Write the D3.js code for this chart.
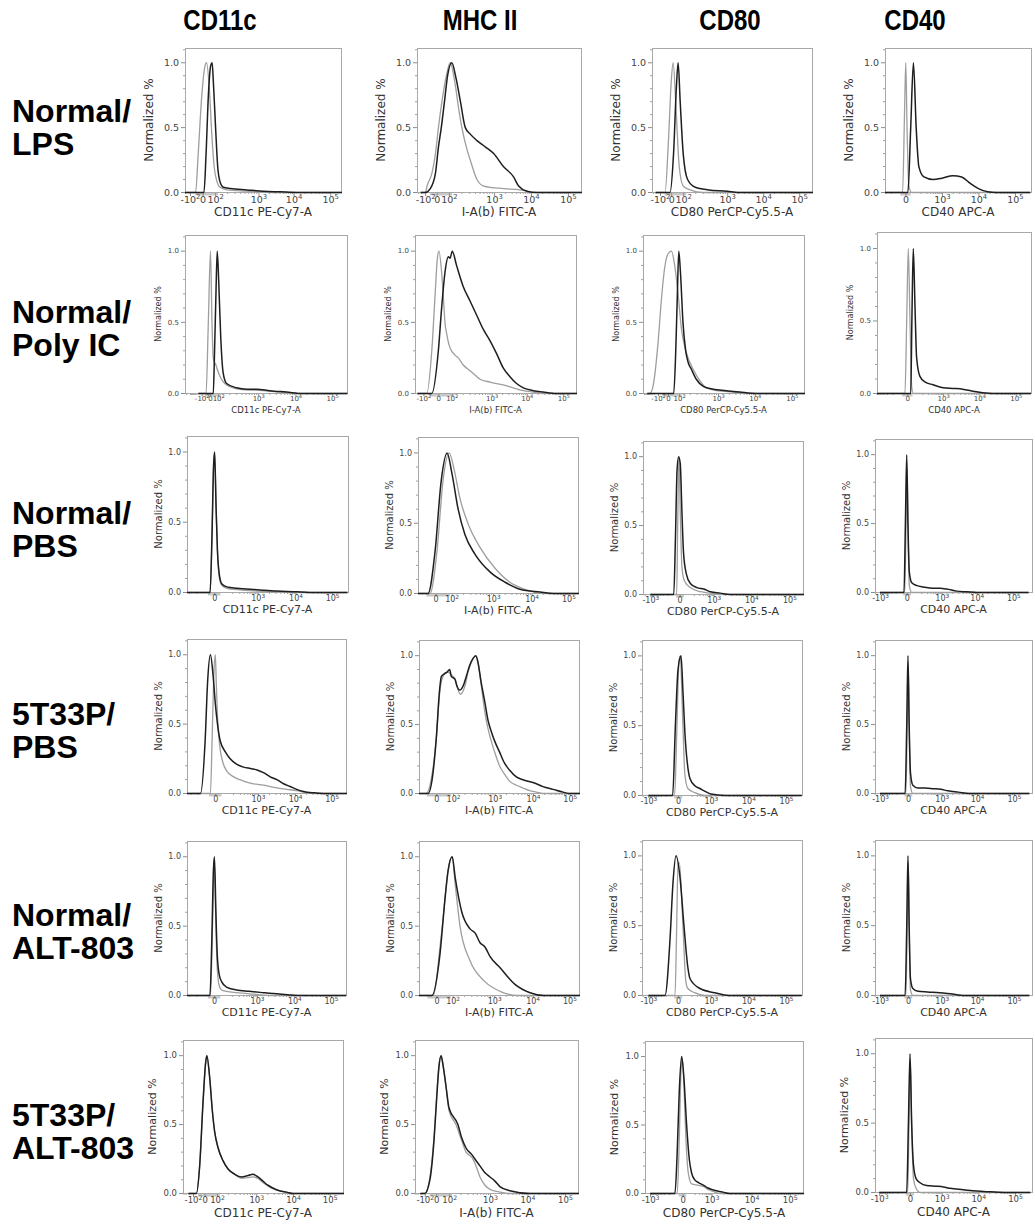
<!DOCTYPE html>
<html><head><meta charset="utf-8">
<script src="https://cdn.jsdelivr.net/npm/d3@7"></script>
<style>body{margin:0;background:#fff}svg{display:block}</style>
</head><body>
<svg id="chart" width="1035" height="1229"></svg>
<script>
// ================= DATA =================
const columnHeaders = ["CD11c", "MHC II", "CD80", "CD40"];
const rowHeaders = [["Normal/", "LPS"], ["Normal/", "Poly IC"], ["Normal/", "PBS"], ["5T33P/", "PBS"], ["Normal/", "ALT-803"], ["5T33P/", "ALT-803"]];
const axisTitles = ["CD11c PE-Cy7-A", "I-A(b) FITC-A", "CD80 PerCP-Cy5.5-A", "CD40 APC-A"];
const yTickValues = [0, 0.5, 1.0];
const yMinorTicks = [0.1, 0.2, 0.3, 0.4, 0.6, 0.7, 0.8, 0.9, 1.1];
const ticksLow = [-100, 0, 100, 1000, 10000, 100000];
const ticksHigh = [-1000, 0, 1000, 10000, 100000];
const labelsLow = [-100, 0, 100, 1000, 10000, 100000];
const labelsHigh = [-1000, 0, 1000, 10000, 100000];
const labelsPos = [0, 1000, 10000, 100000];
const labelsMhc = [0, 100, 1000, 10000, 100000];

// [fluorescence, normalized count]; gray = control, black = stained
const lps_cd11c_gray = [[-200,0],[-38,0],[-20,0.3],[-3,0.75],[9,0.97],[18,1.0],[36,0.8],[58,0.45],[86,0.2],[113,0.08],[135,0.04],[198,0.02],[560,0.01],[2150,0],[262000,0]];
const lps_cd11c_black = [[-200,0],[5,0],[15,0.3],[29,0.75],[48,0.98],[62,1.0],[76,0.85],[103,0.5],[117,0.2],[135,0.08],[162,0.04],[240,0.03],[560,0.02],[1380,0.01],[4170,0.005],[12300,0],[262000,0]];
const lps_mhc_gray = [[-200,0],[-98,0],[-73,0.05],[-25,0.15],[-5,0.3],[7,0.5],[26,0.7],[65,0.9],[108,1.0],[140,0.85],[172,0.65],[205,0.5],[268,0.33],[315,0.25],[440,0.1],[610,0.05],[1800,0.03],[5100,0.02],[7800,0.01],[9600,0],[262000,0]];
const lps_mhc_black = [[-200,0],[-98,0],[-38,0.03],[-5,0.15],[7,0.35],[22,0.5],[46,0.7],[80,0.9],[118,1.0],[150,0.88],[190,0.7],[245,0.5],[315,0.45],[440,0.4],[665,0.35],[980,0.3],[1800,0.2],[3400,0.12],[4650,0.05],[7800,0.01],[14500,0],[262000,0]];
const lps_cd80_gray = [[-200,0],[-37,0],[-13,0.4],[0,0.85],[8,1.0],[26,0.6],[50,0.2],[100,0.05],[150,0.02],[300,0],[262000,0]];
const lps_cd80_black = [[-200,0],[-5,0],[10,0.3],[26,0.8],[40,1.0],[60,0.7],[100,0.3],[130,0.1],[200,0.04],[400,0.02],[1000,0.01],[2000,0],[262000,0]];
const lps_cd40_gray = [[-1000,0],[-10,0],[-3,0.6],[1,1.0],[5,0.5],[12,0.05],[25,0],[262000,0]];
const lps_cd40_black = [[-1000,0],[8,0],[20,0.5],[35,1.0],[55,0.5],[80,0.2],[150,0.12],[400,0.1],[1000,0.11],[2000,0.13],[3500,0.12],[6000,0.07],[10000,0.03],[18000,0.005],[30000,0],[262000,0]];

const polyic_cd11c_gray = [[-200,0],[-30,0],[-10,0.5],[3,1.0],[13,0.5],[24,0.25],[38,0.22],[57,0.2],[79,0.17],[113,0.12],[170,0.06],[365,0.03],[1360,0.02],[3800,0.01],[8700,0],[262000,0]];
const polyic_cd11c_black = [[-200,0],[24,0],[38,0.3],[57,0.7],[79,1.0],[103,0.8],[118,0.4],[137,0.15],[170,0.07],[306,0.04],[535,0.03],[920,0.03],[2050,0.02],[5750,0.01],[16000,0],[262000,0]];
const polyic_mhc_gray = [[-200,0],[-64,0],[-27,0.3],[-11,0.7],[-3,0.95],[2,1.0],[13,0.85],[26,0.6],[32,0.5],[45,0.42],[60,0.36],[79,0.32],[124,0.27],[153,0.25],[207,0.2],[306,0.16],[445,0.12],[535,0.1],[920,0.08],[2150,0.06],[4150,0.04],[8000,0.02],[15000,0.01],[28000,0],[262000,0]];
const polyic_mhc_black = [[-200,0],[-27,0],[0,0.3],[13,0.6],[32,0.85],[60,0.96],[79,0.95],[104,1.0],[137,0.9],[207,0.75],[306,0.65],[445,0.55],[640,0.45],[920,0.37],[1390,0.28],[2150,0.18],[3300,0.12],[5150,0.07],[8000,0.04],[15000,0.02],[28000,0.01],[66000,0],[262000,0]];
const polyic_cd80_gray = [[-600,0],[-400,0],[-240,0.05],[-100,0.35],[-50,0.65],[-19,0.88],[0,0.98],[17,1.0],[43,0.9],[84,0.7],[118,0.45],[145,0.33],[180,0.25],[245,0.17],[360,0.09],[524,0.04],[920,0.02],[2570,0.01],[7300,0],[262000,0]];
const polyic_cd80_black = [[-600,0],[34,0],[54,0.3],[74,0.7],[95,1.0],[110,0.85],[130,0.5],[155,0.3],[180,0.22],[220,0.17],[295,0.1],[440,0.05],[760,0.03],[1700,0.02],[3900,0.01],[11000,0],[262000,0]];
const polyic_cd40_gray = [[-1000,0],[-8,0],[-2,0.5],[3,1.0],[9,0.5],[16,0.05],[24,0],[262000,0]];
const polyic_cd40_black = [[-1000,0],[12,0],[17,0.5],[24,1.0],[34,0.6],[45,0.25],[73,0.12],[140,0.08],[350,0.06],[1000,0.04],[1880,0.035],[3500,0.03],[6600,0.015],[12300,0.005],[23000,0],[262000,0]];

const pbs_cd11c_gray = [[-1000,0],[-12,0],[-6,0.4],[-1.6,0.9],[1,1.0],[5,0.6],[9,0.3],[16,0.1],[26,0.05],[54,0.03],[160,0.02],[940,0.01],[3200,0.005],[10700,0],[262000,0]];
const pbs_cd11c_black = [[-1000,0],[-12,0],[-6,0.4],[-1.6,0.9],[1,1.0],[5,0.6],[9,0.3],[16,0.12],[26,0.06],[54,0.04],[160,0.03],[940,0.02],[3200,0.01],[10700,0.005],[24000,0],[262000,0]];
const pbs_mhc_gray = [[-300,0],[-20,0],[4,0.3],[29,0.8],[74,1.0],[118,0.88],[166,0.68],[262,0.5],[500,0.33],[1120,0.18],[2750,0.08],[6700,0.03],[23000,0],[262000,0]];
const pbs_mhc_black = [[-300,0],[-30,0],[-1.5,0.3],[20,0.8],[56,1.0],[103,0.85],[150,0.6],[222,0.42],[385,0.28],[870,0.15],[2050,0.08],[5000,0.03],[17000,0.01],[40000,0],[262000,0]];
const pbs_cd80_gray = [[-1000,0],[-13,0],[-8,0.5],[-2.5,1.0],[2,0.6],[8,0.2],[19,0.1],[61,0.05],[230,0.02],[700,0.01],[1840,0],[262000,0]];
const pbs_cd80_black = [[-1000,0],[-31,0],[-20,0.4],[-11,0.9],[-4,1.0],[2,0.95],[8,0.6],[15,0.3],[30,0.15],[61,0.08],[150,0.05],[340,0.04],[700,0.02],[1500,0.01],[2750,0],[262000,0]];
const pbs_cd40_gray = [[-1000,0],[-9,0],[-2.8,0.5],[1,0.9],[4,0.5],[9,0.05],[20,0],[262000,0]];
const pbs_cd40_black = [[-1000,0],[-13,0],[-5.7,0.5],[0,1.0],[4,0.5],[9,0.15],[20,0.07],[55,0.05],[130,0.04],[410,0.03],[850,0.03],[1390,0.025],[2700,0.01],[5200,0.005],[10000,0],[262000,0]];

const tpbs_cd11c_gray = [[-1000,0],[-15,0],[-9,0.4],[-4,0.85],[0,1.0],[2.5,0.8],[6,0.55],[13,0.35],[27,0.22],[49,0.16],[108,0.12],[280,0.09],[690,0.07],[1420,0.06],[3250,0.04],[6000,0.03],[11000,0.02],[21000,0.005],[39000,0],[262000,0]];
const tpbs_cd11c_black = [[-1000,0],[-73,0],[-39,0.4],[-27,0.8],[-15,1.0],[-6,0.85],[0,0.65],[6,0.5],[15,0.38],[39,0.3],[73,0.25],[150,0.21],[280,0.19],[530,0.18],[940,0.17],[1420,0.15],[2150,0.12],[3250,0.1],[4900,0.07],[7400,0.05],[11000,0.03],[17000,0.015],[32000,0.005],[59000,0],[262000,0]];
const tpbs_mhc_gray = [[-300,0],[-43,0],[-17,0.1],[0,0.4],[10,0.72],[24,0.85],[54,0.88],[82,0.86],[113,0.83],[135,0.76],[157,0.72],[205,0.78],[245,0.88],[293,0.95],[375,1.0],[420,0.95],[500,0.78],[596,0.6],[710,0.47],[840,0.38],[1000,0.3],[1350,0.2],[1820,0.14],[2450,0.09],[3700,0.06],[5500,0.04],[8200,0.02],[12300,0.01],[18700,0],[262000,0]];
const tpbs_mhc_black = [[-300,0],[-32,0],[-10,0.15],[0,0.4],[10,0.75],[17,0.85],[32,0.87],[47,0.88],[67,0.9],[82,0.85],[113,0.83],[128,0.78],[150,0.75],[185,0.78],[222,0.85],[268,0.93],[322,0.98],[375,1.0],[420,0.95],[500,0.8],[596,0.67],[710,0.53],[840,0.45],[1000,0.38],[1350,0.3],[1820,0.22],[2450,0.17],[3700,0.12],[5500,0.1],[10000,0.08],[18700,0.05],[35000,0.03],[66000,0.01],[100000,0],[262000,0]];
const tpbs_cd80_gray = [[-1000,0],[-15,0],[-4,0.5],[3,0.95],[8,1.0],[21,0.5],[33,0.15],[57,0.05],[155,0.02],[520,0],[262000,0]];
const tpbs_cd80_black = [[-1000,0],[-27,0],[-11,0.5],[0,0.9],[11.5,1.0],[21,0.75],[33,0.45],[57,0.2],[80,0.12],[155,0.07],[290,0.05],[520,0.03],[1000,0.01],[2400,0],[262000,0]];
const tpbs_cd40_gray = [[-1000,0],[-9,0],[-3,0.5],[1,0.92],[4,0.5],[9,0.05],[20,0],[262000,0]];
const tpbs_cd40_black = [[-1000,0],[-13,0],[-5,0.5],[0,1.0],[4,0.5],[9,0.15],[20,0.06],[55,0.04],[150,0.04],[400,0.035],[900,0.03],[1500,0.02],[3000,0.01],[6000,0],[262000,0]];

const alt_cd11c_gray = [[-1000,0],[-10,0],[-4,0.5],[1,0.95],[5,0.5],[9,0.2],[16,0.07],[26,0.04],[54,0.03],[160,0.02],[700,0.01],[3000,0],[262000,0]];
const alt_cd11c_black = [[-1000,0],[-12,0],[-6,0.4],[-1.6,0.9],[1,1.0],[5,0.6],[9,0.3],[16,0.15],[26,0.1],[54,0.06],[160,0.04],[500,0.03],[1500,0.02],[4000,0.01],[15000,0],[262000,0]];
const alt_mhc_gray = [[-300,0],[-10,0],[11,0.35],[24,0.55],[56,0.9],[95,1.0],[118,0.8],[158,0.5],[280,0.25],[620,0.1],[1430,0.03],[4000,0],[262000,0]];
const alt_mhc_black = [[-300,0],[-16,0],[11,0.3],[35,0.7],[56,0.9],[95,1.0],[118,0.85],[176,0.6],[280,0.48],[370,0.45],[480,0.38],[620,0.35],[810,0.28],[1430,0.2],[3500,0.08],[8600,0.02],[20000,0],[262000,0]];
const alt_cd80_gray = [[-1000,0],[-13,0],[-5,0.5],[0,0.95],[5,0.95],[21,0.5],[40,0.1],[57,0.05],[150,0.02],[500,0],[262000,0]];
const alt_cd80_black = [[-1000,0],[-112,0],[-48,0.4],[-25,0.8],[-8,1.0],[7,0.85],[27,0.5],[57,0.2],[80,0.12],[290,0.05],[1260,0.02],[3000,0],[262000,0]];
const alt_cd40_gray = [[-1000,0],[-9,0],[-3,0.5],[1,0.95],[4,0.5],[9,0.04],[20,0],[262000,0]];
const alt_cd40_black = [[-1000,0],[-13,0],[-5,0.5],[0,1.0],[4,0.5],[9,0.12],[20,0.05],[55,0.03],[200,0.025],[800,0.02],[2000,0.01],[5000,0],[262000,0]];

const talt_cd11c_gray = [[-200,0],[-55,0],[-26,0.2],[-7,0.65],[4,0.95],[9,1.0],[24,0.85],[45,0.6],[68,0.45],[108,0.33],[147,0.24],[200,0.18],[300,0.14],[440,0.11],[635,0.115],[836,0.12],[1110,0.11],[1520,0.08],[2080,0.055],[2850,0.035],[4300,0.02],[6600,0.01],[10000,0],[262000,0]];
const talt_cd11c_black = [[-200,0],[-55,0],[-26,0.2],[-7,0.65],[4,0.95],[9,1.0],[24,0.85],[45,0.6],[68,0.45],[108,0.33],[147,0.24],[200,0.18],[300,0.14],[440,0.12],[635,0.13],[836,0.14],[1110,0.12],[1520,0.09],[2080,0.06],[2850,0.04],[4300,0.02],[6600,0.01],[10000,0],[262000,0]];
const talt_mhc_gray = [[-200,0],[-100,0],[-37,0.12],[-9,0.42],[2,0.72],[11,0.93],[22,1.0],[35,0.93],[60,0.78],[97,0.6],[153,0.5],[217,0.38],[275,0.3],[385,0.26],[450,0.22],[590,0.12],[770,0.06],[1000,0.03],[1850,0.01],[3400,0],[262000,0]];
const talt_mhc_black = [[-200,0],[-100,0],[-37,0.1],[-9,0.4],[2,0.7],[11,0.92],[22,1.0],[35,0.93],[60,0.78],[97,0.62],[172,0.5],[217,0.4],[275,0.33],[385,0.28],[450,0.25],[590,0.2],[770,0.15],[1000,0.12],[1360,0.09],[1850,0.05],[3400,0.02],[11700,0],[262000,0]];
const talt_cd80_gray = [[-1000,0],[-24,0],[-13,0.4],[-5.6,0.9],[-1,0.98],[5,0.8],[15,0.4],[30,0.15],[60,0.07],[180,0.06],[370,0.05],[640,0.03],[1100,0.015],[1620,0],[262000,0]];
const talt_cd80_black = [[-1000,0],[-39,0],[-24,0.3],[-13,0.75],[-3.3,1.0],[5,0.85],[19,0.5],[38,0.25],[60,0.15],[103,0.1],[180,0.08],[370,0.06],[640,0.04],[1000,0.03],[1330,0.02],[1950,0.01],[2880,0],[262000,0]];
const talt_cd40_gray = [[-1000,0],[-9,0],[-3.7,0.5],[1,0.95],[6,0.5],[14,0.1],[29,0.03],[62,0],[262000,0]];
const talt_cd40_black = [[-1000,0],[-14,0],[-6,0.5],[0,1.0],[6,0.5],[14,0.2],[29,0.1],[62,0.07],[160,0.05],[570,0.045],[1110,0.04],[1700,0.03],[3900,0.02],[9000,0.01],[21000,0.005],[59000,0],[262000,0]];

const histograms = [
  [[lps_cd11c_gray, lps_cd11c_black], [lps_mhc_gray, lps_mhc_black], [lps_cd80_gray, lps_cd80_black], [lps_cd40_gray, lps_cd40_black]],
  [[polyic_cd11c_gray, polyic_cd11c_black], [polyic_mhc_gray, polyic_mhc_black], [polyic_cd80_gray, polyic_cd80_black], [polyic_cd40_gray, polyic_cd40_black]],
  [[pbs_cd11c_gray, pbs_cd11c_black], [pbs_mhc_gray, pbs_mhc_black], [pbs_cd80_gray, pbs_cd80_black], [pbs_cd40_gray, pbs_cd40_black]],
  [[tpbs_cd11c_gray, tpbs_cd11c_black], [tpbs_mhc_gray, tpbs_mhc_black], [tpbs_cd80_gray, tpbs_cd80_black], [tpbs_cd40_gray, tpbs_cd40_black]],
  [[alt_cd11c_gray, alt_cd11c_black], [alt_mhc_gray, alt_mhc_black], [alt_cd80_gray, alt_cd80_black], [alt_cd40_gray, alt_cd40_black]],
  [[talt_cd11c_gray, talt_cd11c_black], [talt_mhc_gray, talt_mhc_black], [talt_cd80_gray, talt_cd80_black], [talt_cd40_gray, talt_cd40_black]]
];

// ================= LAYOUT (positions / styles) =================
const rowLayout = [
  {frames: [[185,48,341,192],[417,48,581,192],[652,48,812,192],[885,48,1031,192]], yt: 12, tk: 9.5, xt: 12, ytOff: 36, xtOff: 24, tks: 4, head: [122,155]},
  {frames: [[185,235,347,393],[415,235,576,393],[643,235,804,393],[877,232,1031,393]], yt: 8, tk: 7, xt: 8.5, ytOff: 27, xtOff: 20, tks: 3, head: [323,356]},
  {frames: [[187,436,348,592],[418,437,578,593],[643,441,803,594],[875,439,1032,592]], yt: 10, tk: 8, xt: 11, ytOff: 29, xtOff: 21, tks: 3, head: [524,557]},
  {frames: [[187,639,346,793],[419,640,579,793],[642,640,802,795],[875,640,1032,793]], yt: 10, tk: 8, xt: 11, ytOff: 29, xtOff: 21, tks: 3, head: [725,758]},
  {frames: [[187,841,346,995],[419,841,579,995],[642,840,802,995],[875,840,1032,995]], yt: 10, tk: 8, xt: 11, ytOff: 29, xtOff: 21, tks: 3, head: [926,959]},
  {frames: [[183,1040,343,1193],[415,1040,578,1193],[645,1041,803,1193],[875,1038,1032,1192]], yt: 11, tk: 8.5, xt: 12, ytOff: 31, xtOff: 24, tks: 4, head: [1126,1159]}
];
// axis calibration: tick values -> fraction of frame width (biexponential display)
const calA = f => ({t: ticksLow, f, lab: labelsLow, bar: [-40, 120]});
const calD = f => ({t: ticksHigh, f, lab: labelsHigh, bar: [-17, 17]});
const calP = f => ({t: ticksHigh, f, lab: labelsPos, bar: [-20, 20]});
const calB = f => ({t: ticksLow, f, lab: labelsMhc, bar: [-40, 80]});
const axisCal = [
  [calA([0.032,0.113,0.193,0.471,0.696,0.931]), calA([0.05,0.12,0.195,0.47,0.695,0.92]), calA([0.05,0.12,0.195,0.47,0.695,0.92]), calP([-0.1,0.14,0.39,0.64,0.89])],
  [calA([0.103,0.154,0.205,0.452,0.682,0.908]), calA([0.052,0.145,0.228,0.476,0.694,0.921]), calA([0.093,0.155,0.224,0.466,0.694,0.925]), calP([-0.035,0.197,0.429,0.665,0.901])],
  [calP([-0.1,0.169,0.439,0.674,0.901]), calB([0.01,0.11,0.21,0.47,0.71,0.94]), calD([0.046,0.229,0.442,0.677,0.915]), calD([0.032,0.202,0.425,0.648,0.881])],
  [calP([-0.09,0.178,0.446,0.68,0.91]), calB([0.004,0.108,0.2125,0.473,0.7125,0.942]), calD([0.04,0.225,0.43,0.665,0.90]), calD([0.032,0.21,0.425,0.65,0.885])],
  [calP([-0.1,0.17,0.44,0.675,0.905]), calB([0.01,0.11,0.21,0.47,0.71,0.94]), calD([0.04,0.225,0.43,0.665,0.90]), calD([0.032,0.21,0.425,0.65,0.885])],
  [calA([0.0625,0.135,0.2125,0.458,0.6875,0.917]), calA([0.06,0.13,0.21,0.46,0.69,0.92]), calD([0.032,0.238,0.421,0.674,0.916]), calD([0.027,0.223,0.425,0.658,0.892])]
];
const headerX = [220, 480, 730, 915];
const FONT = "'DejaVu Sans', Verdana, sans-serif";
const BOLD = "'Liberation Sans', Arial, sans-serif";
const Y_TOP = 1.11;

// ================= DRAW =================
const svg = d3.select("#chart");
svg.append("rect").attr("width", 1035).attr("height", 1229).attr("fill", "#fff");

columnHeaders.forEach((h, i) => {
  svg.append("text").attr("transform", `translate(${headerX[i]},30) scale(0.8,1)`).attr("text-anchor", "middle")
    .attr("font-family", BOLD).attr("font-weight", "bold").attr("font-size", 30).attr("fill", "#000").text(h);
});
rowHeaders.forEach((lines, r) => {
  lines.forEach((ln, k) => {
    svg.append("text").attr("x", 12).attr("y", rowLayout[r].head[k])
      .attr("font-family", BOLD).attr("font-weight", "bold").attr("font-size", 32).attr("fill", "#000").text(ln);
  });
});

function fmtTick(sel, d) {
  sel.text(null);
  if (d === 0) { sel.text("0"); return; }
  const e = Math.round(Math.log10(Math.abs(d)));
  sel.append("tspan").text((d < 0 ? "-" : "") + "10");
  sel.append("tspan").attr("dy", "-0.55em").attr("font-size", "0.72em").text(e);
}

let clipId = 0;
histograms.forEach((row, r) => {
  const L = rowLayout[r];
  row.forEach((pair, c) => {
    const [x0, y0, x1, y1] = L.frames[c];
    const cal = axisCal[r][c];
    const w = x1 - x0;
    const g = svg.append("g");
    const x = d3.scaleSymlog().constant(30).domain(cal.t).range(cal.f.map(f => x0 + f * w));
    const y = d3.scaleLinear().domain([0, Y_TOP]).range([y1, y0]);

    // biexponential zero-region marker
    g.append("rect").attr("x", x(cal.bar[0])).attr("y", y1 + 1).attr("width", x(cal.bar[1]) - x(cal.bar[0]))
      .attr("height", 2.5).attr("fill", "#c8c8c8");

    // y axis
    const gy = g.append("g").attr("transform", `translate(${x0},0)`)
      .call(d3.axisLeft(y).tickValues(yTickValues).tickFormat(d3.format(".1f")).tickSize(4).tickPadding(2));
    gy.select(".domain").remove();
    gy.selectAll("line").attr("stroke", "#8c8c8c");
    gy.selectAll("text").attr("font-family", FONT).attr("font-size", L.tk).attr("fill", "#444");
    const gym = g.append("g").attr("transform", `translate(${x0},0)`)
      .call(d3.axisLeft(y).tickValues(yMinorTicks.filter(v => y(v) >= y0)).tickFormat("").tickSize(2));
    gym.select(".domain").remove();
    gym.selectAll("line").attr("stroke", "#a0a0a0");

    // x axis
    const inside = v => { const p = x(v); return p >= x0 - 0.5 && p <= x1 + 0.5; };
    const majors = cal.lab.filter(inside);
    const gx = g.append("g").attr("transform", `translate(0,${y1})`)
      .call(d3.axisBottom(x).tickValues(majors).tickSize(L.tks).tickPadding(0));
    gx.select(".domain").remove();
    gx.selectAll("line").attr("stroke", "#8c8c8c");
    gx.selectAll(".tick text").attr("font-family", FONT).attr("font-size", L.tk).attr("fill", "#444")
      .each(function(d) { fmtTick(d3.select(this), d); });
    const minors = [];
    [100, 1000, 10000].forEach(p => d3.range(1, 10).forEach(m => { minors.push(m * p); minors.push(-m * p); }));
    const gxm = g.append("g").attr("transform", `translate(0,${y1})`)
      .call(d3.axisBottom(x).tickValues(minors.filter(v => inside(v) && !cal.t.includes(v))).tickFormat("").tickSize(2));
    gxm.select(".domain").remove();
    gxm.selectAll("line").attr("stroke", "#a0a0a0");

    // frame
    g.append("rect").attr("x", x0 + 0.5).attr("y", y0 + 0.5).attr("width", w).attr("height", y1 - y0)
      .attr("fill", "none").attr("stroke", "#a8a8a8").attr("stroke-width", 1);

    // titles
    g.append("text").attr("transform", `translate(${x0 - L.ytOff},${(y0 + y1) / 2}) rotate(-90)`)
      .attr("text-anchor", "middle").attr("dominant-baseline", "central")
      .attr("font-family", FONT).attr("font-size", L.yt).attr("fill", "#333").text("Normalized %");
    g.append("text").attr("x", (x0 + x1) / 2).attr("y", y1 + L.xtOff).attr("text-anchor", "middle")
      .attr("font-family", FONT).attr("font-size", L.xt).attr("fill", "#333").text(axisTitles[c]);

    // histograms
    const id = "clip" + (clipId++);
    g.append("clipPath").attr("id", id).append("rect")
      .attr("x", x0).attr("y", y0).attr("width", w + 1).attr("height", y1 - y0 + 2);
    const line = d3.line().x(d => x(d[0])).y(d => y(d[1]) + 0.5).curve(d3.curveMonotoneX);
    const cg = g.append("g").attr("clip-path", `url(#${id})`);
    cg.append("path").attr("d", line(pair[0])).attr("fill", "none").attr("stroke", "#9e9e9e").attr("stroke-width", 1.3);
    cg.append("path").attr("d", line(pair[1])).attr("fill", "none").attr("stroke", "#1e1e1e").attr("stroke-width", 1.5);
  });
});
</script>
</body></html>
